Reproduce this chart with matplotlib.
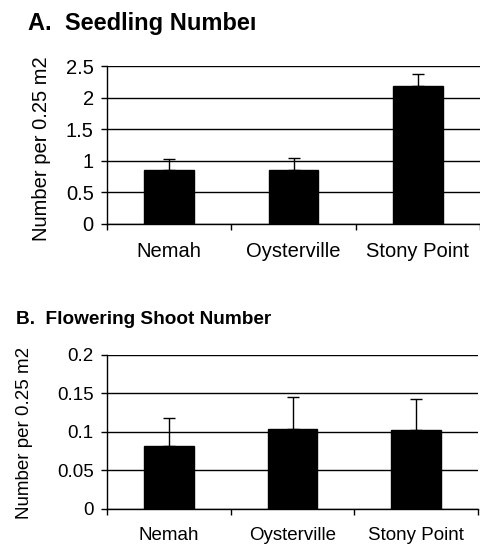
import numpy as np
import matplotlib
matplotlib.use("Agg")
import matplotlib.pyplot as plt

plt.rcParams['font.family'] = ['Liberation Sans', 'DejaVu Sans']

sites = ['Nemah', 'Oysterville', 'Stony Point']

# seedlings per 0.25 m2 (mean, upper SE)
seedling_mean = [0.86, 0.86, 2.18]
seedling_se = [0.16, 0.19, 0.19]

# flowering shoots per 0.25 m2 (mean, upper SE)
shoot_mean = [0.082, 0.104, 0.102]
shoot_se = [0.036, 0.041, 0.041]

seedling_ticks = [0, 0.5, 1, 1.5, 2, 2.5]
seedling_ticklabels = ['0', '0.5', '1', '1.5', '2', '2.5']
shoot_ticks = [0, 0.05, 0.1, 0.15, 0.2]
shoot_ticklabels = ['0', '0.05', '0.1', '0.15', '0.2']

fig = plt.figure(figsize=(4.8, 5.44), dpi=100)
W, H = 480.0, 544.0


def px_axes(left, top, right, bottom):
    return fig.add_axes([left / W, 1 - bottom / H, (right - left) / W, (bottom - top) / H])


def bar_panel(ax, means, errs, ticks, ticklabels, fs):
    x = np.arange(len(sites))
    ax.set_xlim(-0.5, len(sites) - 0.5)
    ax.set_ylim(ticks[0], ticks[-1])
    ax.set_yticks(ticks)
    ax.set_yticklabels(ticklabels, fontsize=fs)
    for t in ticks:
        ax.axhline(t, color='black', lw=1.0, zorder=1)
    ax.bar(x, means, width=0.4, color='black', edgecolor='black', zorder=2)
    ax.errorbar(x, means, yerr=[np.zeros(len(errs)), errs], fmt='none',
                ecolor='black', elinewidth=1.0, capsize=4, capthick=1.0, zorder=1.5)
    # boundaries between categories get the tick marks, names sit in between
    ax.set_xticks(np.arange(-0.5, len(sites), 1.0))
    ax.set_xticklabels([])
    ax.set_xticks(x, minor=True)
    ax.set_xticklabels(sites, minor=True, fontsize=fs)
    ax.tick_params(axis='x', which='major', direction='out', length=4, width=1)
    ax.tick_params(axis='x', which='minor', length=0, pad=13)
    ax.tick_params(axis='y', direction='out', length=4.5, width=1, pad=5)
    for side in ('top', 'right'):
        ax.spines[side].set_visible(False)
    for side in ('left', 'bottom'):
        ax.spines[side].set_linewidth(1.0)
        ax.spines[side].set_zorder(3)


axA = px_axes(107, 66.3, 480, 223.7)
bar_panel(axA, seedling_mean, seedling_se, seedling_ticks, seedling_ticklabels, 14.5)
fig.text(28 / W, 1 - 30 / H, 'A.  Seedling Numbeı', fontsize=17, fontweight='bold',
         ha='left', va='baseline')
fig.text(42 / W, 1 - 148.5 / H, 'Number per 0.25 m2', fontsize=14.5, rotation=90,
         ha='center', va='center')

axB = px_axes(107, 355, 478, 508.7)
bar_panel(axB, shoot_mean, shoot_se, shoot_ticks, shoot_ticklabels, 13.5)
fig.text(16 / W, 1 - 324 / H, 'B.  Flowering Shoot Number', fontsize=13.7, fontweight='bold',
         ha='left', va='baseline')
fig.text(25 / W, 1 - 433.3 / H, 'Number per 0.25 m2', fontsize=13.5, rotation=90,
         ha='center', va='center')

fig.savefig('out.png', dpi=100)
